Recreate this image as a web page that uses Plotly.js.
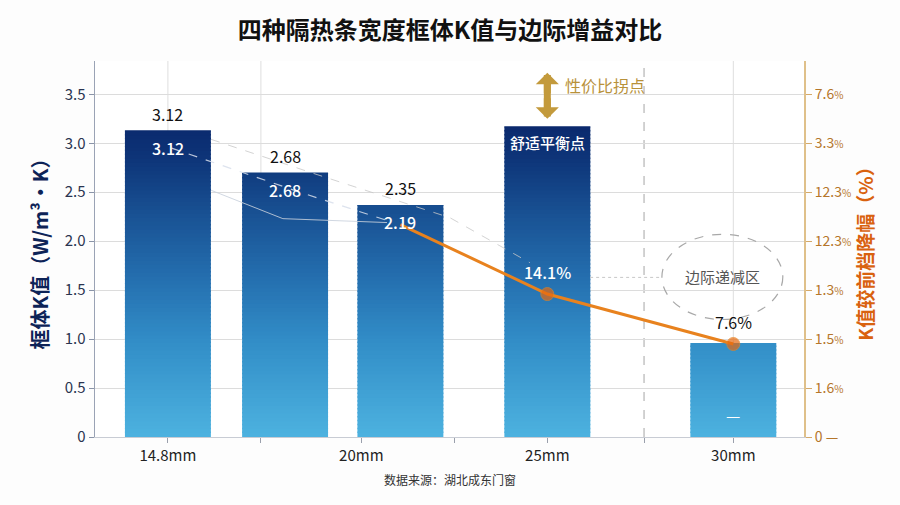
<!DOCTYPE html>
<html>
<head>
<meta charset="utf-8">
<script src="https://cdn.plot.ly/plotly-3.0.1.min.js"></script>
<style>
    html, body { margin: 0; padding: 0; background: #fdfdfd; }
    #chart { width: 900px; height: 505px; }
</style>
</head>
<body>
<div id="chart"></div>
<script>
// K value bars (bar centres on the mm axis)
const barX = [14.8, 17.95, 21.05, 25, 30];
const kBar = [3.13, 2.70, 2.37, 3.17, 0.96];
const topLabels = ['3.12', '2.68', '2.35', '', ''];
const innerLabels = ['3.12', '2.68', '2.19', '舒适平衡点', ''];

// x axis ticks
const tickVals = [14.8, 17.3, 20, 22.5, 25, 27.6, 30];
const tickText = ['14.8mm', '', '20mm', '', '25mm', '', '30mm'];
const gridX = [14.8, 17.3, 30];
const kneeX = 27.6;

// marginal gain line (right axis)
const gainX = [21.05, 25, 30];
const gainY = [2.17, 1.46, 0.95];
const gainLabels = ['', '14.1%', '7.6%'];
const gainLabelColors = ['#ffffff', '#ffffff', '#111111'];

// right axis tick labels (as printed)
const rightTickVals = [0, 0.5, 1, 1.5, 2, 2.5, 3, 3.5];
const rightTickText = ['0', '1.6', '1.5', '1.3', '12.3', '12.3', '3.3', '7.6'];

const FONT = '"Noto Sans CJK SC", "Noto Sans", sans-serif';
const Y_RANGE = [0, 3.84];
const X_RANGE = [12.84, 31.9];
const BAR_W = 2.31;

// vertical gradient for the bars: light blue at bottom, navy at top
const gradStops = [
    [0.0, [77, 178, 223]],
    [0.3, [50, 142, 200]],
    [0.5, [37, 112, 176]],
    [0.72, [24, 80, 146]],
    [0.88, [14, 54, 122]],
    [1.0, [10, 40, 108]]
];
function gradColor(y) {
    const t = Math.max(0, Math.min(1, y / 3.2));
    for (let i = 1; i < gradStops.length; i++) {
        if (t <= gradStops[i][0]) {
            const a = gradStops[i - 1], b = gradStops[i];
            const f = (t - a[0]) / (b[0] - a[0]);
            const c = a[1].map((v, k) => Math.round(v + (b[1][k] - v) * f));
            return `rgb(${c[0]},${c[1]},${c[2]})`;
        }
    }
    return 'rgb(10,40,108)';
}

// build bar slices so each bar shows the gradient
const step = 0.04;
const sx = [], sy = [], sbase = [], scol = [];
barX.forEach((x, i) => {
    for (let b = 0; b < kBar[i]; b += step) {
        const top = Math.min(kBar[i], b + step + 0.015);
        sx.push(x);
        sbase.push(b);
        sy.push(top - b);
        scol.push(gradColor(b + step / 2));
    }
});

const barTrace = {
    type: 'bar',
    x: sx,
    y: sy,
    base: sbase,
    width: BAR_W,
    marker: { color: scol, line: { width: 0 } },
    hoverinfo: 'skip',
    showlegend: false
};

const gainTrace = {
    type: 'scatter',
    mode: 'lines+markers',
    x: gainX,
    y: gainY,
    yaxis: 'y2',
    line: { color: '#e8821e', width: 3 },
    marker: { color: '#e8690f', size: [0, 13, 13] },
    hoverinfo: 'skip',
    showlegend: false
};

// decorative guide lines between labels
function pathOf(pts) {
    return pts.map((p, i) => (i ? 'L' : 'M') + p[0] + ',' + p[1]).join(' ');
}
const guideInner = [[barX[0] + 0.1, kBar[0] - 0.18], [barX[1] + 0.4, kBar[1] - 0.2], [barX[2] - 0.35, gainY[0] + 0.04]];
const guideTop = [[barX[0] + 1.16, kBar[0] - 0.09], [barX[1] + 0.86, kBar[1] - 0.02], [barX[2] + 1.33, kBar[2] - 0.13], [barX[3] - 0.47, gainY[1] + 0.32]];
const guideLow = [[barX[0] + 1.16, 2.52], [barX[1] - 0.06, 2.23], [barX[2] - 0.36, gainY[0] + 0.02]];

const shapes = [];
gridX.forEach(x => shapes.push({
    type: 'line', xref: 'x', yref: 'paper', x0: x, x1: x, y0: 0, y1: 1,
    line: { color: '#dedede', width: 1 }, layer: 'below'
}));
shapes.push({
    type: 'line', xref: 'x', yref: 'paper', x0: kneeX, x1: kneeX, y0: 0, y1: 1,
    line: { color: '#c4c4c4', width: 1.5, dash: 'dash' }, layer: 'below'
});
shapes.push({ type: 'path', xref: 'x', yref: 'y', path: pathOf(guideInner),
    line: { color: 'rgba(215,222,235,0.85)', width: 1.2, dash: 'dash' } });
shapes.push({ type: 'path', xref: 'x', yref: 'y', path: pathOf(guideTop),
    line: { color: 'rgba(200,200,200,0.8)', width: 1, dash: 'dash' } });
shapes.push({ type: 'path', xref: 'x', yref: 'y', path: pathOf(guideLow),
    line: { color: 'rgba(200,208,220,0.85)', width: 1 } });
shapes.push({ type: 'line', xref: 'x', yref: 'y', x0: gainX[1] + 1.15, x1: 28.08, y0: gainY[1] + 0.17, y1: gainY[1] + 0.17,
    line: { color: '#c8c8c8', width: 1, dash: 'dot' } });
// "边际递减区" ellipse
shapes.push({ type: 'circle', xref: 'x', yref: 'y', x0: 28.08, x1: 31.33, y0: 1.2, y1: 2.07,
    line: { color: '#a8a8a8', width: 1.2, dash: 'dash' } });
// shaft of the sweet spot arrow
shapes.push({ type: 'line', xref: 'x', yref: 'y', x0: barX[3], x1: barX[3], y0: 3.36, y1: 3.62,
    line: { color: '#c39a3c', width: 7 } });

const annotations = [];
barX.forEach((x, i) => {
    if (topLabels[i]) annotations.push({
        x: x, y: kBar[i], xref: 'x', yref: 'y', text: topLabels[i], showarrow: false,
        yanchor: 'bottom', yshift: 3, font: { family: FONT, size: 16, color: '#111' }
    });
    if (innerLabels[i]) annotations.push({
        x: x, y: kBar[i], xref: 'x', yref: 'y', text: innerLabels[i], showarrow: false,
        yanchor: 'top', yshift: -3,
        font: { family: FONT, size: i === 3 ? 15 : 16, color: '#fff', weight: 500 }
    });
});
gainX.forEach((x, i) => {
    if (gainLabels[i]) annotations.push({
        x: x, y: gainY[i], xref: 'x', yref: 'y2', text: gainLabels[i], showarrow: false,
        yanchor: 'bottom', yshift: 8,
        font: { family: FONT, size: 16, color: gainLabelColors[i], weight: i === 1 ? 500 : 400 }
    });
});
// white dash in the 30mm bar
annotations.push({ x: barX[4], y: 0.22, xref: 'x', yref: 'y', text: '—', showarrow: false,
    font: { family: FONT, size: 16, color: '#fff' } });
// sweet spot double arrow heads
[[3.25, -22], [3.72, 22]].forEach(a => annotations.push({
    x: barX[3], y: a[0], xref: 'x', yref: 'y', ax: 0, ay: a[1], text: '',
    showarrow: true, arrowhead: 1, arrowsize: 0.55, arrowwidth: 7,
    arrowcolor: '#c39a3c'
}));
annotations.push({ x: barX[3], y: 3.6, xref: 'x', yref: 'y', xanchor: 'left', xshift: 16,
    text: '性价比拐点', showarrow: false, font: { family: FONT, size: 16, color: '#b8913a' } });
annotations.push({ x: 29.72, y: 1.64, xref: 'x', yref: 'y', text: '边际递减区', showarrow: false,
    font: { family: FONT, size: 15, color: '#555' } });
annotations.push({ x: 0.5, y: -0.112, xref: 'paper', yref: 'paper', xanchor: 'center', yanchor: 'middle',
    text: '数据来源：湖北成东门窗', showarrow: false, font: { family: FONT, size: 12, color: '#333' } });

const layout = {
    width: 900,
    height: 505,
    paper_bgcolor: '#fdfdfd',
    plot_bgcolor: '#ffffff',
    margin: { l: 95, r: 96, t: 61, b: 68 },
    font: { family: FONT },
    title: {
        text: '<b>四种隔热条宽度框体K值与边际增益对比</b>',
        x: 0.5, xanchor: 'center', y: 0.94, yanchor: 'middle',
        font: { family: FONT, size: 24, color: '#111' }
    },
    barmode: 'overlay',
    xaxis: {
        range: X_RANGE,
        tickvals: tickVals,
        ticktext: tickText,
        showgrid: false,
        zeroline: false,
        ticks: 'outside', ticklen: 5, tickcolor: '#9aa0ac',
        tickfont: { family: FONT, size: 15, color: '#222' },
        showline: true, linecolor: '#c8ccd4', linewidth: 1,
        fixedrange: true
    },
    yaxis: {
        range: Y_RANGE,
        tickvals: [0, 0.5, 1, 1.5, 2, 2.5, 3, 3.5],
        ticktext: ['0', '0.5', '1.0', '1.5', '2.0', '2.5', '3.0', '3.5'],
        showgrid: true, gridcolor: '#dcdcdc', gridwidth: 1,
        zeroline: false,
        ticks: 'outside', ticklen: 5, tickcolor: '#8a94a8',
        tickfont: { family: FONT, size: 15, color: '#2a3450' },
        showline: true, linecolor: '#9aa3b5', linewidth: 1.5,
        title: {
            text: '<b>框体K值（W/m³·K）</b>',
            font: { family: FONT, size: 20, color: '#0d2357' },
            standoff: 10
        },
        fixedrange: true
    },
    yaxis2: {
        overlaying: 'y',
        side: 'right',
        range: Y_RANGE,
        tickvals: rightTickVals,
        ticktext: rightTickText.map((t, i) => i === 0 ? t + ' —' : t + '<span style="font-size:10px">%</span>'),
        showgrid: false,
        zeroline: false,
        ticks: 'outside', ticklen: 6, tickcolor: '#d4a96a',
        tickfont: { family: FONT, size: 14, color: '#b5762a' },
        showline: true, linecolor: '#dfc08a', linewidth: 2,
        title: {
            text: '<b>K值较前档降幅（%）</b>',
            font: { family: FONT, size: 19, color: '#d9620f' },
            standoff: 4
        },
        fixedrange: true
    },
    shapes: shapes,
    annotations: annotations,
    showlegend: false
};

Plotly.newPlot('chart', [barTrace, gainTrace], layout, { displayModeBar: false, staticPlot: true });
</script>
</body>
</html>
